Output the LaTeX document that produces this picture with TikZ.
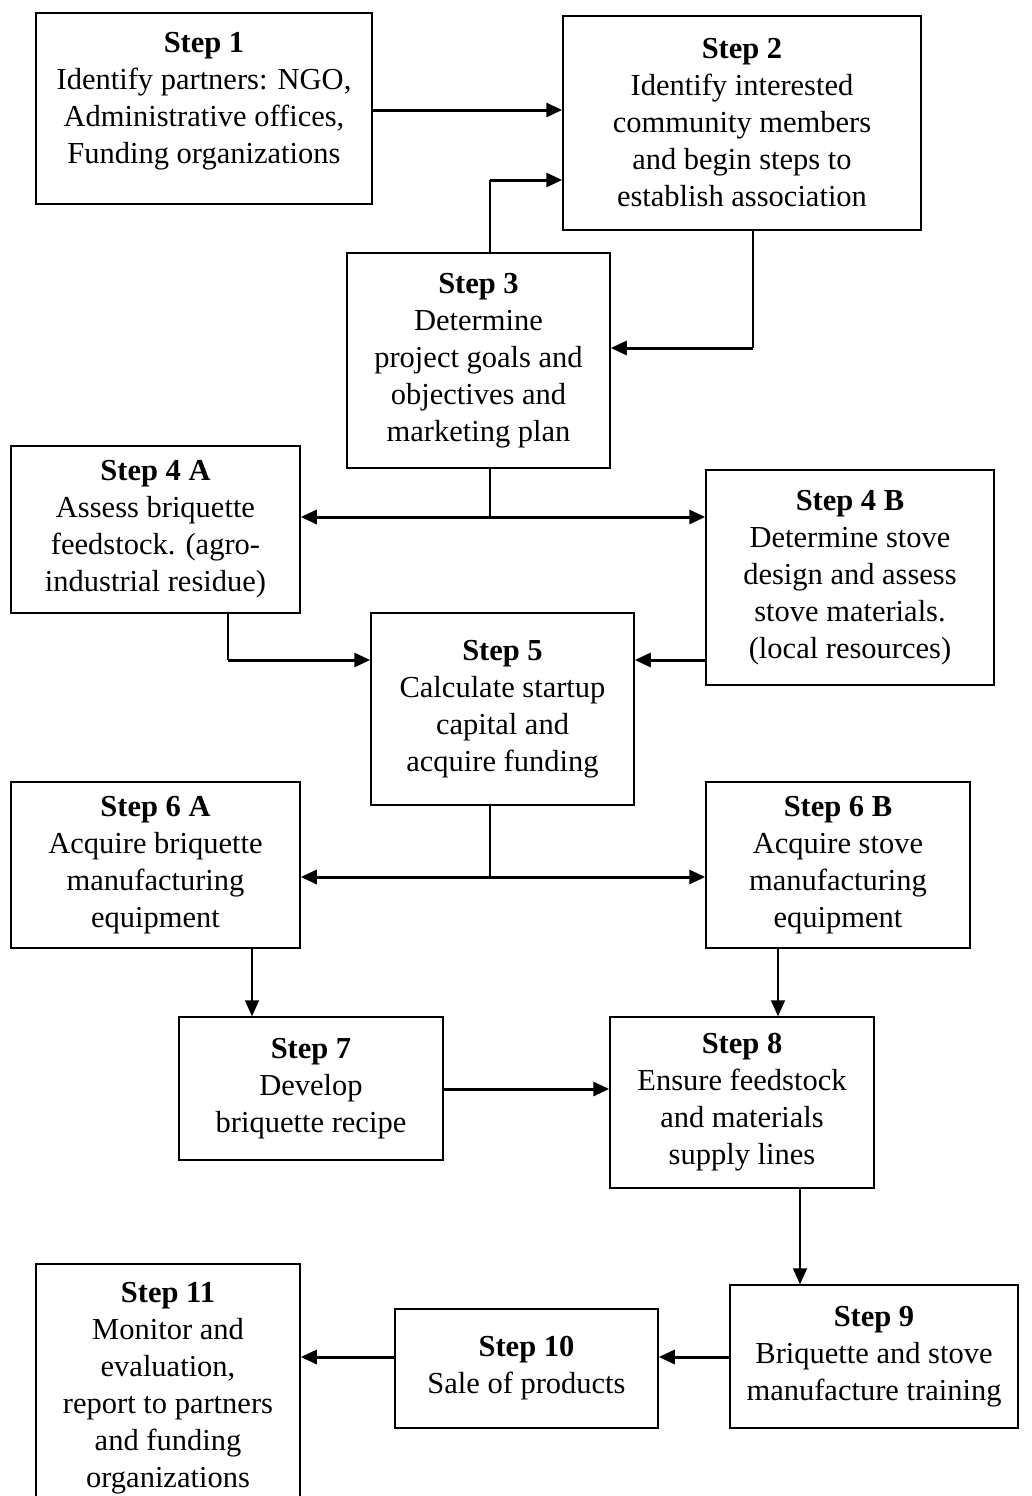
\documentclass[tikz,border=0pt]{standalone}
\usepackage{fontspec}
\setmainfont{Liberation Serif}
\usetikzlibrary{arrows.meta,calc}
\tikzset{
  box/.style={draw, line width=1.5pt, align=center, inner sep=0pt,
    font=\fontsize{30.5}{37}\selectfont},
  tip/.style={-{Triangle[length=16pt,width=14pt]}},
  vline/.style={line width=1.8pt},
  hline/.style={line width=3pt},
}
\newcommand{\stp}[1]{\textbf{Step #1}}
\begin{document}
\begin{tikzpicture}[x=1pt,y=-1pt]
\useasboundingbox (0,0) rectangle (1032,1496);
\clip (0,0) rectangle (1032,1496);
\fill[white] (0,0) rectangle (1032,1496);

\node[box, minimum width=336, minimum height=191] (s1) at (204,108.5)
  {\stp{1}\\Identify partners: NGO,\\Administrative offices,\\Funding organizations\\[-16pt]};
\node[box, minimum width=358, minimum height=214] (s2) at (742,123)
  {\stp{2}\\Identify interested\\community members\\and begin steps to\\establish association};
\node[box, minimum width=263, minimum height=215] (s3) at (478.5,360.5)
  {\stp{3}\\Determine\\project goals and\\objectives and\\marketing plan};
\node[box, minimum width=289, minimum height=167] (s4a) at (155.5,529.5)
  {\stp{4 A}\\Assess briquette\\feedstock. (agro-\\industrial residue)};
\node[box, minimum width=288, minimum height=215] (s4b) at (850,577.5)
  {\stp{4 B}\\Determine stove\\design and assess\\stove materials.\\(local resources)};
\node[box, minimum width=263, minimum height=192] (s5) at (502.5,709)
  {\stp{5}\\Calculate startup\\capital and\\acquire funding};
\node[box, minimum width=289, minimum height=166] (s6a) at (155.5,865)
  {\stp{6 A}\\Acquire briquette\\manufacturing\\equipment};
\node[box, minimum width=264, minimum height=166] (s6b) at (838,865)
  {\stp{6 B}\\Acquire stove\\manufacturing\\equipment};
\node[box, minimum width=264, minimum height=143] (s7) at (311,1088.5)
  {\stp{7}\\Develop\\briquette recipe};
\node[box, minimum width=264, minimum height=171] (s8) at (742,1102.5)
  {\stp{8}\\Ensure feedstock\\and materials\\supply lines};
\node[box, minimum width=288, minimum height=143] (s9) at (874,1356.5)
  {\stp{9}\\Briquette and stove\\manufacture training};
\node[box, minimum width=263, minimum height=119] (s10) at (526.5,1368.5)
  {\stp{10}\\Sale of products};
\node[box, minimum width=264, minimum height=260, anchor=north] (s11) at (168,1263)
  {\parbox[c][260pt][t]{264pt}{\centering\fontsize{30.5}{37}\selectfont\vspace*{19pt}%
   \stp{11}\\Monitor and\\evaluation,\\report to partners\\and funding\\organizations}};

% connectors
\draw[hline,tip] (s1.east |- 0,110) -- (s2.west |- 0,110);
\coordinate (t3) at (490,180);
\draw[vline] (s3.north -| t3) -- (t3);
\draw[hline,tip] (t3) -- (s2.west |- t3);
\coordinate (b2) at (753,348);
\draw[vline] (s2.south -| b2) -- (b2);
\draw[hline,tip] (b2) -- (s3.east |- b2);

\coordinate (j3) at (490,517);
\draw[vline] (s3.south -| j3) -- (j3);
\draw[hline,{Triangle[length=16pt,width=14pt]}-{Triangle[length=16pt,width=14pt]}]
  (s4a.east |- j3) -- (s4b.west |- j3);

\coordinate (b4a) at (228,660);
\draw[vline] (s4a.south -| b4a) -- (b4a);
\draw[hline,tip] (b4a) -- (s5.west |- b4a);
\draw[hline,tip] (s4b.west |- b4a) -- (s5.east |- b4a);

\coordinate (j5) at (490,877);
\draw[vline] (s5.south -| j5) -- (j5);
\draw[hline,{Triangle[length=16pt,width=14pt]}-{Triangle[length=16pt,width=14pt]}]
  (s6a.east |- j5) -- (s6b.west |- j5);

\draw[vline,tip] (s6a.south -| 252,0) -- (s7.north -| 252,0);
\draw[vline,tip] (s6b.south -| 778,0) -- (s8.north -| 778,0);
\draw[hline,tip] (s7.east |- 0,1089) -- (s8.west |- 0,1089);
\draw[vline,tip] (s8.south -| 800,0) -- (s9.north -| 800,0);
\draw[hline,tip] (s9.west |- 0,1357) -- (s10.east |- 0,1357);
\draw[hline,tip] (s10.west |- 0,1357) -- (s11.east |- 0,1357);
\end{tikzpicture}
\end{document}
